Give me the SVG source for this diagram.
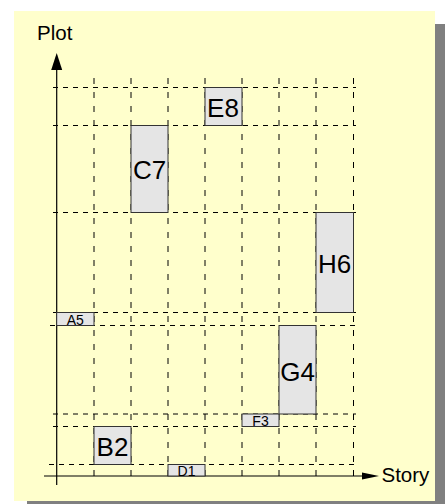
<svg xmlns="http://www.w3.org/2000/svg" width="445" height="504" viewBox="0 0 445 504">
<style>
.bg{fill:#ffffcc}
.shadow{fill:#808080}
.hg{stroke:#000;stroke-width:1;stroke-dasharray:5,5;fill:none}
.vg{stroke:#000;stroke-width:1;stroke-dasharray:6,8;fill:none}
.axis{stroke:#000;stroke-width:1.2;fill:none}
.box{fill:#e5e5e5;stroke:#333;stroke-width:1}
.big{font-family:"Liberation Sans",Arial,sans-serif;font-size:26px;fill:#000;text-anchor:middle}
.small{font-family:"Liberation Sans",Arial,sans-serif;font-size:14px;fill:#000;text-anchor:middle}
.lbl{font-family:"Liberation Sans",Arial,sans-serif;font-size:20.5px;fill:#000}
</style>
<rect class="shadow" x="27" y="24" width="421" height="490"/>
<rect class="bg" x="14" y="11" width="421" height="490"/>
<g id="grid">
<line class="hg" x1="53" y1="87.5" x2="356" y2="87.5"/>
<line class="hg" x1="53" y1="125.5" x2="356" y2="125.5"/>
<line class="hg" x1="53" y1="212.5" x2="356" y2="212.5"/>
<line class="hg" x1="53" y1="312.5" x2="356" y2="312.5"/>
<line class="hg" x1="50" y1="325.5" x2="356" y2="325.5"/>
<line class="hg" x1="53" y1="414" x2="356" y2="414"/>
<line class="hg" x1="53" y1="426.5" x2="356" y2="426.5"/>
<line class="hg" x1="49" y1="464.5" x2="356" y2="464.5"/>
<line class="vg" x1="94" y1="78" x2="94" y2="480"/>
<line class="vg" x1="131" y1="78" x2="131" y2="480"/>
<line class="vg" x1="168" y1="78" x2="168" y2="480"/>
<line class="vg" x1="205" y1="78" x2="205" y2="480"/>
<line class="vg" x1="242" y1="78" x2="242" y2="480"/>
<line class="vg" x1="279" y1="78" x2="279" y2="480"/>
<line class="vg" x1="316" y1="78" x2="316" y2="480"/>
<line class="vg" x1="353.5" y1="78" x2="353.5" y2="480"/>
</g>
<g id="connectors">
<line class="axis" x1="56.7" y1="485" x2="56.7" y2="68"/>
<polygon points="56.7,53 51.2,70 62.2,70" fill="#000"/>
<line class="axis" x1="44" y1="476" x2="364" y2="476"/>
<polygon points="379,476 362,472.5 362,479.5" fill="#000"/>
</g>
<text class="lbl" x="37" y="39.5">Plot</text>
<text class="lbl" x="381.5" y="482">Story</text>
<g id="A5"><rect class="box" x="56.7" y="312.5" width="37.3" height="13"/><text class="small" x="75.3" y="325">A5</text></g>
<g id="B2"><rect class="box" x="94" y="426.5" width="37" height="38"/><text class="big" x="112.5" y="455.5">B2</text></g>
<g id="C7"><rect class="box" x="131" y="125.5" width="37" height="87"/><text class="big" x="149.5" y="178.5">C7</text></g>
<g id="D1"><rect class="box" x="168" y="464.5" width="37" height="11.5"/><text class="small" x="186.5" y="476">D1</text></g>
<g id="E8"><rect class="box" x="205" y="87.5" width="37" height="38"/><text class="big" x="223" y="116.5">E8</text></g>
<g id="F3"><rect class="box" x="242" y="414" width="37" height="12.5"/><text class="small" x="260.5" y="426">F3</text></g>
<g id="G4"><rect class="box" x="279" y="325.5" width="37" height="88.5"/><text class="big" x="297.5" y="380.5">G4</text></g>
<g id="H6"><rect class="box" x="316" y="212.5" width="37.5" height="100"/><text class="big" x="334.7" y="273.3">H6</text></g>
</svg>
